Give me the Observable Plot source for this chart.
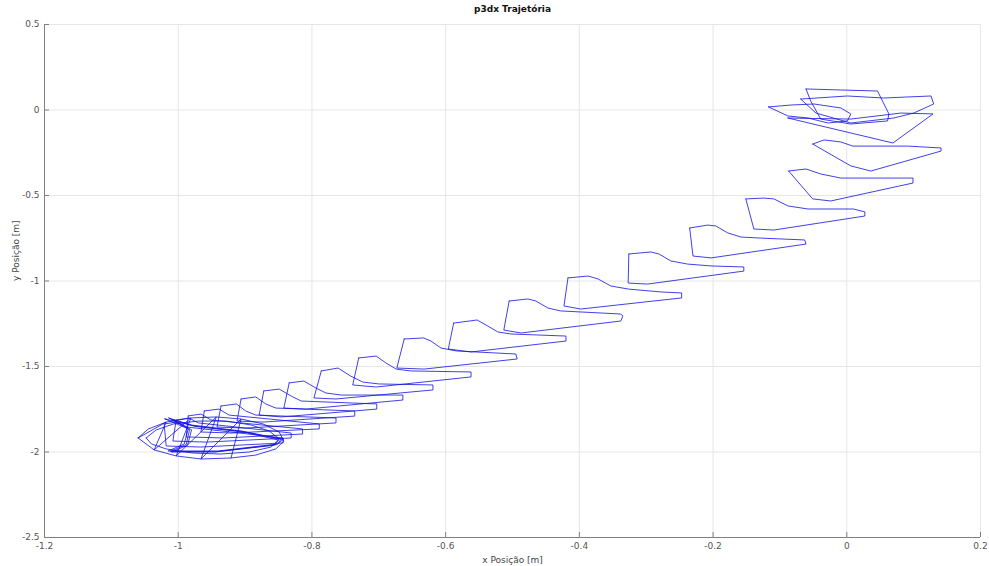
<!DOCTYPE html>
<html>
<head>
<meta charset="utf-8">
<script src="https://cdn.jsdelivr.net/npm/d3@7"></script>
<script src="https://cdn.jsdelivr.net/npm/@observablehq/plot@0.6"></script>
<style>
html,body{margin:0;padding:0;background:#fff;}
</style>
</head>
<body>
<div id="chart"></div>
<script>
const title = "p3dx Trajetória";
const xLabel = "x Posição [m]";
const yLabel = "y Posição [m]";
const xTicks = [-1.2, -1, -0.8, -0.6, -0.4, -0.2, 0, 0.2];
const yTicks = [0.5, 0, -0.5, -1, -1.5, -2, -2.5];

// Lower-left cluster (start region)
const ellipseOuter = [[-1.060,-1.918],[-1.045,-1.866],[-1.018,-1.825],[-0.981,-1.801],[-0.943,-1.795],[-0.906,-1.807],[-0.873,-1.836],[-0.849,-1.883],[-0.842,-1.936],[-0.854,-1.982],[-0.884,-2.018],[-0.921,-2.035],[-0.966,-2.041],[-1.003,-2.023],[-1.036,-1.988],[-1.060,-1.918]];
const ellipseInner = [[-1.048,-1.918],[-1.033,-1.871],[-1.007,-1.836],[-0.970,-1.819],[-0.928,-1.819],[-0.891,-1.842],[-0.864,-1.877],[-0.849,-1.924],[-0.861,-1.971],[-0.894,-2.000],[-0.936,-2.012],[-0.978,-2.006],[-1.018,-1.982],[-1.040,-1.953],[-1.048,-1.918]];
const spokes = [[-1.060,-1.918],[-1.018,-1.825],[-1.036,-1.988],[-0.981,-1.801],[-1.003,-2.023],[-0.943,-1.795],[-0.966,-2.041],[-0.906,-1.807],[-0.921,-2.035]];
const trapA = [[-1.014,-1.801],[-0.981,-1.842],[-0.906,-1.877],[-0.846,-1.924],[-0.851,-1.953],[-0.940,-1.994],[-1.015,-1.994],[-0.991,-1.953],[-0.985,-1.865],[-1.014,-1.801]];
const trapB = [[-1.008,-1.812],[-0.975,-1.850],[-0.900,-1.885],[-0.850,-1.930],[-0.856,-1.960],[-0.945,-2.000],[-1.010,-2.000],[-0.986,-1.960],[-0.980,-1.870],[-1.008,-1.812]];
const trapC = [[-1.020,-1.806],[-0.978,-1.846],[-0.903,-1.881],[-0.843,-1.927],[-0.853,-1.957],[-0.943,-1.998],[-1.012,-1.997],[-0.988,-1.956],[-0.983,-1.868],[-1.020,-1.806]];

// Repeated manoeuvre loops, from lower-left to upper-right
const loopS = [[-1.021,-1.836],[-1.002,-1.825],[-0.987,-1.854],[-0.843,-1.918],[-0.843,-1.947],[-0.966,-1.971],[-1.018,-1.965],[-1.021,-1.836]];
const loopR = [[-1.003,-1.813],[-0.984,-1.801],[-0.970,-1.830],[-0.831,-1.889],[-0.831,-1.918],[-0.958,-1.942],[-1.008,-1.936],[-1.003,-1.813]];
const loopQ = [[-0.985,-1.789],[-0.966,-1.778],[-0.951,-1.813],[-0.814,-1.865],[-0.814,-1.895],[-0.933,-1.918],[-0.988,-1.912],[-0.985,-1.789]];
const loopP = [[-0.961,-1.760],[-0.939,-1.749],[-0.924,-1.784],[-0.789,-1.836],[-0.789,-1.865],[-0.921,-1.889],[-0.966,-1.883],[-0.961,-1.760]];
const loopO = [[-0.936,-1.731],[-0.913,-1.719],[-0.899,-1.760],[-0.884,-1.784],[-0.764,-1.801],[-0.764,-1.830],[-0.899,-1.860],[-0.942,-1.854],[-0.936,-1.731]];
const loopN = [[-0.906,-1.690],[-0.884,-1.678],[-0.869,-1.719],[-0.854,-1.743],[-0.736,-1.760],[-0.736,-1.790],[-0.873,-1.825],[-0.912,-1.819],[-0.906,-1.690]];
const loopM = [[-0.872,-1.643],[-0.849,-1.632],[-0.831,-1.673],[-0.816,-1.702],[-0.703,-1.719],[-0.703,-1.749],[-0.846,-1.795],[-0.879,-1.784],[-0.872,-1.643]];
const loopL = [[-0.834,-1.596],[-0.812,-1.585],[-0.794,-1.626],[-0.779,-1.655],[-0.756,-1.667],[-0.664,-1.667],[-0.664,-1.696],[-0.809,-1.749],[-0.842,-1.743],[-0.834,-1.596]];
const loopK = [[-0.786,-1.526],[-0.761,-1.509],[-0.742,-1.556],[-0.724,-1.591],[-0.700,-1.602],[-0.619,-1.608],[-0.619,-1.637],[-0.764,-1.690],[-0.797,-1.684],[-0.786,-1.526]];
const loopJ = [[-0.730,-1.450],[-0.704,-1.439],[-0.689,-1.480],[-0.674,-1.515],[-0.652,-1.526],[-0.562,-1.532],[-0.562,-1.561],[-0.704,-1.620],[-0.739,-1.608],[-0.730,-1.450]];
const loopI = [[-0.662,-1.339],[-0.633,-1.333],[-0.622,-1.351],[-0.607,-1.392],[-0.584,-1.409],[-0.495,-1.427],[-0.493,-1.456],[-0.632,-1.515],[-0.673,-1.509],[-0.662,-1.339]];
const loopH = [[-0.588,-1.246],[-0.553,-1.228],[-0.537,-1.263],[-0.522,-1.298],[-0.502,-1.310],[-0.420,-1.322],[-0.420,-1.351],[-0.562,-1.415],[-0.596,-1.398],[-0.588,-1.246]];
const loopG = [[-0.505,-1.117],[-0.477,-1.105],[-0.465,-1.117],[-0.447,-1.158],[-0.428,-1.175],[-0.338,-1.193],[-0.335,-1.205],[-0.338,-1.234],[-0.487,-1.304],[-0.513,-1.287],[-0.505,-1.117]];
const loopF = [[-0.417,-0.982],[-0.387,-0.971],[-0.372,-0.988],[-0.353,-1.029],[-0.327,-1.047],[-0.278,-1.064],[-0.247,-1.070],[-0.247,-1.099],[-0.398,-1.164],[-0.423,-1.146],[-0.417,-0.982]];
const loopE = [[-0.326,-0.842],[-0.293,-0.830],[-0.281,-0.842],[-0.263,-0.883],[-0.238,-0.901],[-0.203,-0.912],[-0.154,-0.918],[-0.154,-0.942],[-0.298,-1.018],[-0.327,-1.012],[-0.326,-0.842]];
const loopD = [[-0.235,-0.690],[-0.208,-0.673],[-0.196,-0.678],[-0.178,-0.719],[-0.158,-0.743],[-0.129,-0.749],[-0.063,-0.760],[-0.061,-0.784],[-0.203,-0.865],[-0.230,-0.854],[-0.235,-0.690]];
const loopC = [[-0.151,-0.520],[-0.124,-0.515],[-0.109,-0.520],[-0.088,-0.561],[-0.058,-0.579],[0.010,-0.579],[0.027,-0.596],[0.027,-0.620],[-0.109,-0.702],[-0.139,-0.696],[-0.151,-0.520]];
const loopB = [[-0.087,-0.357],[-0.061,-0.345],[-0.039,-0.374],[-0.009,-0.398],[0.099,-0.398],[0.099,-0.427],[-0.024,-0.532],[-0.051,-0.520],[-0.087,-0.357]];
const loopA = [[-0.051,-0.199],[-0.034,-0.175],[-0.009,-0.187],[0.009,-0.211],[0.091,-0.211],[0.141,-0.222],[0.141,-0.240],[0.036,-0.357],[0.006,-0.327],[-0.051,-0.199]];

// Upper-right cluster (end region)
const endU1 = [[-0.117,0.018],[-0.084,0.029],[-0.049,0.035],[-0.009,0.012],[0.006,-0.023],[0.001,-0.064],[-0.028,-0.076],[-0.058,-0.047],[-0.088,-0.035],[-0.117,0.018]];
const endU2 = [[-0.061,0.123],[-0.009,0.117],[0.046,0.111],[0.063,-0.023],[0.061,-0.064],[0.006,-0.082],[-0.039,-0.053],[-0.054,0.053],[-0.061,0.123]];
const endU3 = [[-0.069,0.064],[0.001,0.082],[0.055,0.070],[0.126,0.082],[0.130,0.035],[0.100,-0.018],[0.070,-0.047],[0.006,-0.076],[-0.046,-0.018],[-0.069,0.064]];
const endU4 = [[-0.088,-0.047],[0.069,-0.193],[0.129,-0.023],[0.081,-0.018],[0.006,-0.053],[-0.088,-0.047]];

const loops = [ellipseOuter, ellipseInner, spokes, trapA, trapB, trapC, loopS, loopR, loopQ, loopP, loopO, loopN, loopM, loopL, loopK, loopJ, loopI, loopH, loopG, loopF, loopE, loopD, loopC, loopB, loopA, endU1, endU2, endU3, endU4];
const path = loops.flatMap((pts, k) => pts.map(([x, y]) => ({x, y, k})));

const W = 989, H = 566, mT = 24, mB = 29, mL = 44, mR = 9;
const frameH = H - mT - mB, frameW = W - mL - mR;

const chart = Plot.plot({
  width: W,
  height: H,
  marginTop: mT,
  marginBottom: mB,
  marginLeft: mL,
  marginRight: mR,
  style: {fontFamily: "DejaVu Sans, sans-serif", fontSize: "9px", color: "#444", background: "#fff"},
  x: {domain: [-1.2, 0.2]},
  y: {domain: [-2.5, 0.5]},
  marks: [
    Plot.gridX(xTicks, {stroke: "#e6e6e6", strokeOpacity: 1}),
    Plot.gridY(yTicks, {stroke: "#e6e6e6", strokeOpacity: 1}),
    Plot.line(path, {x: "x", y: "y", z: "k", stroke: "#1010e0", strokeWidth: 0.8, curve: "linear"}),
    Plot.ruleX([-1.2], {stroke: "#808080", strokeWidth: 1}),
    Plot.ruleY([-2.5], {stroke: "#808080", strokeWidth: 1}),
    Plot.tickX(xTicks, {x: d => d, stroke: "#808080", insetTop: frameH - 5}),
    Plot.tickY(yTicks, {y: d => d, stroke: "#808080", insetRight: frameW - 5}),
    Plot.axisX(xTicks, {tickSize: 0, tickPadding: 5, tickFormat: d => String(d), label: null, fill: "#555"}),
    Plot.axisY(yTicks, {tickSize: 0, tickPadding: 5, tickFormat: d => String(d), label: null, fill: "#555"}),
    Plot.text([xLabel], {text: d => d, frameAnchor: "bottom", dy: 25, fill: "#444", fontSize: 9}),
    Plot.text([yLabel], {text: d => d, frameAnchor: "left", rotate: -90, dx: -28, fill: "#444", fontSize: 9}),
    Plot.text([title], {text: d => d, frameAnchor: "top", dy: -19, fill: "#111", fontWeight: "bold", fontSize: 9})
  ]
});
document.getElementById("chart").appendChild(chart);
</script>
</body>
</html>
